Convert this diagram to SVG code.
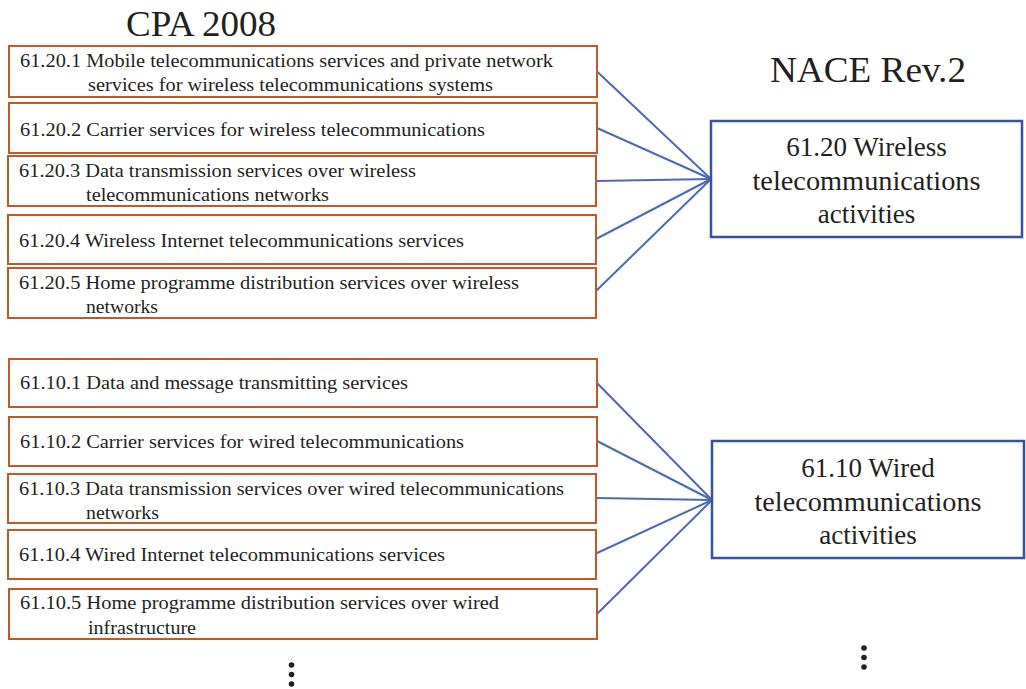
<svg xmlns="http://www.w3.org/2000/svg" width="1026" height="689" viewBox="0 0 1026 689">
<style>
  .cpa { fill: #ffffff; stroke: #c0582a; stroke-width: 2; }
  .nace { fill: #ffffff; stroke: #3553a0; stroke-width: 2.5; }
  .t { font-family: "Liberation Serif", "Times New Roman", Times, "DejaVu Serif", serif; font-size: 19.5px; fill: #231f20; }
  .big { font-family: "Liberation Serif", "Times New Roman", Times, "DejaVu Serif", serif; font-size: 27px; fill: #231f20; text-anchor: middle; }
  .head { font-family: "Liberation Serif", "Times New Roman", Times, "DejaVu Serif", serif; font-size: 35px; fill: #231f20; }
  .conn line { stroke: #4a6ab5; stroke-width: 2; }
  .dot { fill: #231f20; }
</style>
<rect width="1026" height="689" fill="#ffffff"/>

<g id="titles">
  <text class="head" x="126" y="35.5" textLength="150" lengthAdjust="spacingAndGlyphs">CPA 2008</text>
  <text class="head" x="770" y="82" textLength="196" lengthAdjust="spacingAndGlyphs">NACE Rev.2</text>
</g>

<g id="connectors" class="conn">
  <line x1="597" y1="71.5" x2="711" y2="179"/>
  <line x1="597" y1="128" x2="711" y2="179"/>
  <line x1="596" y1="181" x2="711" y2="179"/>
  <line x1="596" y1="239" x2="711" y2="179"/>
  <line x1="596" y1="291" x2="711" y2="179"/>
  <line x1="597" y1="383" x2="712" y2="500"/>
  <line x1="597" y1="441" x2="712" y2="500"/>
  <line x1="596" y1="498" x2="712" y2="500"/>
  <line x1="596" y1="553.5" x2="712" y2="500"/>
  <line x1="597" y1="614" x2="712" y2="500"/>
</g>

<g id="n61201">
  <rect class="cpa" x="9" y="46" width="588" height="51"/>
  <text class="t" x="20" y="66.5" textLength="533" lengthAdjust="spacingAndGlyphs">61.20.1 Mobile telecommunications services and private network</text>
  <text class="t" x="88" y="90.5" textLength="405" lengthAdjust="spacingAndGlyphs">services for wireless telecommunications systems</text>
</g>
<g id="n61202">
  <rect class="cpa" x="9" y="103" width="588" height="50"/>
  <text class="t" x="20" y="135.5" textLength="465" lengthAdjust="spacingAndGlyphs">61.20.2 Carrier services for wireless telecommunications</text>
</g>
<g id="n61203">
  <rect class="cpa" x="8" y="156" width="588" height="50"/>
  <text class="t" x="19" y="176.5" textLength="397" lengthAdjust="spacingAndGlyphs">61.20.3 Data transmission services over wireless</text>
  <text class="t" x="86" y="201" textLength="243" lengthAdjust="spacingAndGlyphs">telecommunications networks</text>
</g>
<g id="n61204">
  <rect class="cpa" x="8" y="215" width="588" height="49"/>
  <text class="t" x="19" y="246.5" textLength="445" lengthAdjust="spacingAndGlyphs">61.20.4 Wireless Internet telecommunications services</text>
</g>
<g id="n61205">
  <rect class="cpa" x="8" y="268" width="588" height="50"/>
  <text class="t" x="19" y="288.5" textLength="500" lengthAdjust="spacingAndGlyphs">61.20.5 Home programme distribution services over wireless</text>
  <text class="t" x="86" y="312.5" textLength="72" lengthAdjust="spacingAndGlyphs">networks</text>
</g>

<g id="n61101">
  <rect class="cpa" x="9" y="359" width="588" height="48"/>
  <text class="t" x="20" y="389" textLength="388" lengthAdjust="spacingAndGlyphs">61.10.1 Data and message transmitting services</text>
</g>
<g id="n61102">
  <rect class="cpa" x="9" y="417" width="588" height="49"/>
  <text class="t" x="20" y="448" textLength="444" lengthAdjust="spacingAndGlyphs">61.10.2 Carrier services for wired telecommunications</text>
</g>
<g id="n61103">
  <rect class="cpa" x="8" y="474" width="588" height="49"/>
  <text class="t" x="19" y="495" textLength="545" lengthAdjust="spacingAndGlyphs">61.10.3 Data transmission services over wired telecommunications</text>
  <text class="t" x="86" y="518.5" textLength="73" lengthAdjust="spacingAndGlyphs">networks</text>
</g>
<g id="n61104">
  <rect class="cpa" x="8" y="530" width="588" height="49"/>
  <text class="t" x="19" y="561" textLength="426" lengthAdjust="spacingAndGlyphs">61.10.4 Wired Internet telecommunications services</text>
</g>
<g id="n61105">
  <rect class="cpa" x="9" y="589" width="588" height="50"/>
  <text class="t" x="20" y="609" textLength="479" lengthAdjust="spacingAndGlyphs">61.10.5 Home programme distribution services over wired</text>
  <text class="t" x="88" y="634" textLength="108" lengthAdjust="spacingAndGlyphs">infrastructure</text>
</g>

<g id="n6120">
  <rect class="nace" x="711" y="121" width="311" height="116"/>
  <text class="big" x="866.5" y="155.5">61.20 Wireless</text>
  <text class="big" x="866.5" y="189.5" textLength="228" lengthAdjust="spacingAndGlyphs">telecommunications</text>
  <text class="big" x="866.5" y="223">activities</text>
</g>
<g id="n6110">
  <rect class="nace" x="712" y="441" width="312" height="117"/>
  <text class="big" x="868" y="477">61.10 Wired</text>
  <text class="big" x="868" y="511" textLength="227" lengthAdjust="spacingAndGlyphs">telecommunications</text>
  <text class="big" x="868" y="544">activities</text>
</g>

<g id="ellipses">
  <circle class="dot" cx="291.5" cy="665" r="2.8"/>
  <circle class="dot" cx="291.5" cy="674.5" r="2.8"/>
  <circle class="dot" cx="291.5" cy="684" r="2.8"/>
  <circle class="dot" cx="864" cy="648" r="2.8"/>
  <circle class="dot" cx="864" cy="657.5" r="2.8"/>
  <circle class="dot" cx="864" cy="667" r="2.8"/>
</g>
</svg>
